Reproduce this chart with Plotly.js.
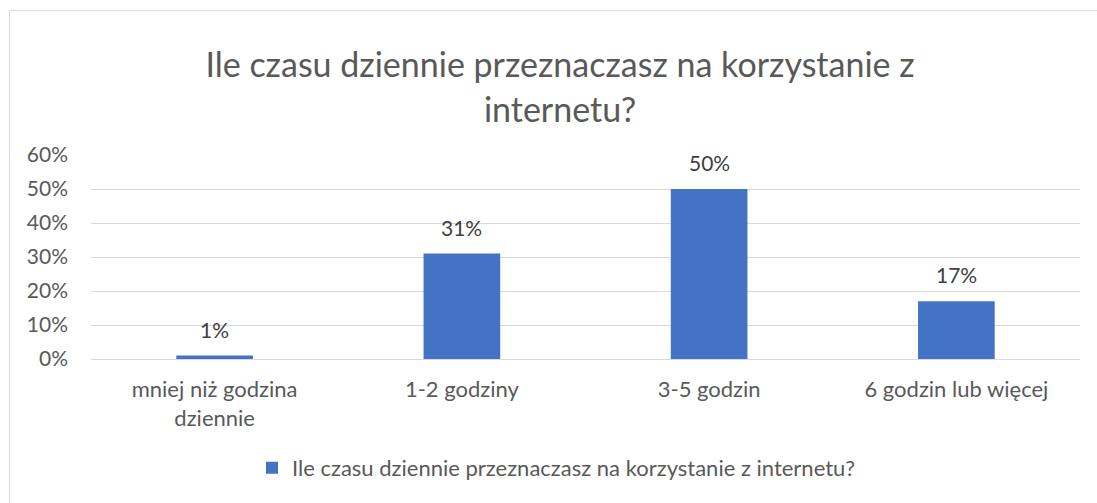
<!DOCTYPE html>
<html><head><meta charset="utf-8">
<script src="https://cdn.plot.ly/plotly-3.0.1.min.js"></script>
<style>html,body{margin:0;padding:0;background:#fff;}#chart{width:1097px;height:503px;}</style>
</head><body><div id="chart"></div>
<script>
const categories = ["mniej niż godzina<br>dziennie", "1-2 godziny", "3-5 godzin", "6 godzin lub więcej"];
const values = [0.01, 0.31, 0.50, 0.17];
const seriesName = "Ile czasu dziennie przeznaczasz na korzystanie z internetu?";
const titleText = "Ile czasu dziennie przeznaczasz na korzystanie z<br>internetu?";
const yTicks = [0, 0.1, 0.2, 0.3, 0.4, 0.5, 0.6];

const FONT = "Lato, 'Open Sans', sans-serif";
const GREY = "#595959";

const trace = {
  type: "bar", x: categories, y: values, name: seriesName,
  marker: {color: "#4472C4"}, showlegend: true, hoverinfo: "none"
};
const annotations = categories.map((c, i) => ({
  x: c, y: values[i], xref: "x", yref: "y", text: Math.round(values[i]*100) + "%",
  showarrow: false, yanchor: "bottom", yshift: 12,
  font: {family: FONT, size: 21, color: "#404040"}
}));
const layout = {
  width: 1097, height: 503,
  margin: {l: 91, r: 17, t: 155, b: 144},
  paper_bgcolor: "#fff", plot_bgcolor: "#fff",
  font: {family: FONT, color: GREY},
  title: {text: titleText, x: 0.5105, xref: "container", xanchor: "center", y: 0.846, yanchor: "middle",
          font: {family: FONT, size: 34, color: GREY}},
  bargap: 0.69,
  xaxis: {tickfont: {size: 22, color: GREY}, showline: true, linecolor: "#d9d9d9",
          ticks: "", ticklabelstandoff: 11, fixedrange: true},
  yaxis: {range: [0, 0.6], tickvals: yTicks, tickformat: ".0%", gridcolor: "#d9d9d9",
          zeroline: false, tickfont: {size: 21, color: GREY}, ticks: "", ticklabelstandoff: 22, fixedrange: true},
  legend: {orientation: "h", x: 0.1628, xanchor: "left", y: -0.534, yanchor: "middle",
           font: {size: 22, color: GREY}},
  annotations: annotations,
  shapes: [{type: "rect", xref: "paper", yref: "paper", x0: -0.0824, x1: 1.03, y0: -0.8, y1: 1.708,
            line: {color: "#d9d9d9", width: 1}, fillcolor: "rgba(0,0,0,0)", layer: "below"}]
};
Plotly.newPlot("chart", [trace], layout, {staticPlot: true});
</script></body></html>
